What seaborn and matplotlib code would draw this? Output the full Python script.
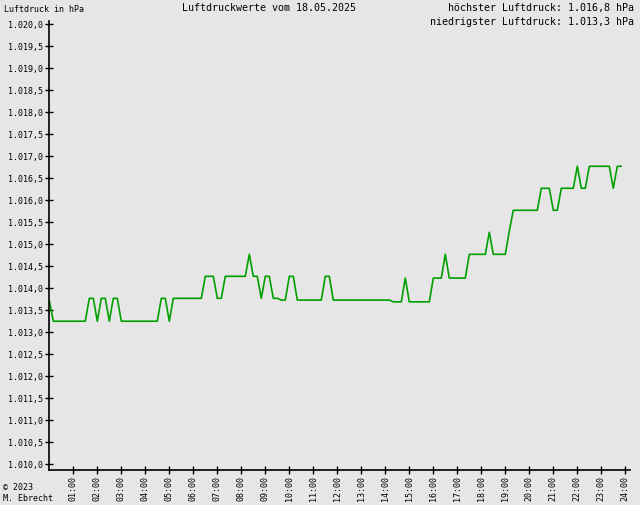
import numpy as np
import pandas as pd
import matplotlib
matplotlib.use("Agg")
import matplotlib.pyplot as plt
import seaborn as sns
from matplotlib.ticker import FuncFormatter

# ── Data: vertices of the pressure curve (10-minute readings) ──
times = ["00:00", "00:10", "01:30", "01:40", "01:50", "02:00", "02:10", "02:20",
         "02:30", "02:40", "02:50", "03:00", "04:30", "04:40", "04:50", "05:00",
         "05:10", "06:20", "06:30", "06:50", "07:00", "07:10", "07:20", "08:10",
         "08:20", "08:30", "08:40", "08:50", "09:00", "09:10", "09:20", "09:30",
         "09:40", "09:50", "10:00", "10:10", "10:20", "11:20", "11:30", "11:40",
         "11:50", "14:10", "14:20", "14:40", "14:50", "15:00", "15:50", "16:00",
         "16:20", "16:30", "16:40", "17:20", "17:30", "18:10", "18:20", "18:30",
         "19:00", "19:10", "19:20", "20:20", "20:30", "20:50", "21:00", "21:10",
         "21:20", "21:50", "22:00", "22:10", "22:20", "22:30", "23:20", "23:30",
         "23:40", "23:50"]
pressure = [1013.72, 1013.25, 1013.25, 1013.77, 1013.77, 1013.25, 1013.77, 1013.77,
            1013.25, 1013.77, 1013.77, 1013.25, 1013.25, 1013.77, 1013.77, 1013.25,
            1013.77, 1013.77, 1014.27, 1014.27, 1013.77, 1013.77, 1014.27, 1014.27,
            1014.77, 1014.27, 1014.27, 1013.77, 1014.27, 1014.27, 1013.77, 1013.77,
            1013.73, 1013.73, 1014.27, 1014.27, 1013.73, 1013.73, 1014.27, 1014.27,
            1013.73, 1013.73, 1013.69, 1013.69, 1014.23, 1013.69, 1013.69, 1014.23,
            1014.23, 1014.77, 1014.23, 1014.23, 1014.77, 1014.77, 1015.27, 1014.77,
            1014.77, 1015.30, 1015.77, 1015.77, 1016.27, 1016.27, 1015.77, 1015.77,
            1016.27, 1016.27, 1016.77, 1016.27, 1016.27, 1016.77, 1016.77, 1016.27,
            1016.77, 1016.77]

title = "Luftdruckwerte vom 18.05.2025"
max_text = "höchster Luftdruck: 1.016,8 hPa"
min_text = "niedrigster Luftdruck: 1.013,3 hPa"
hour_labels = [f"{h:02d}:00" for h in range(1, 25)]

df = pd.DataFrame({
    "hour": [int(t[:2]) + int(t[3:]) / 60 for t in times],
    "hPa": pressure,
})

# ── Style ───────────────────────────────────────────────────
bg = "#e6e6e6"
sns.set_style("white", {"axes.facecolor": bg, "figure.facecolor": bg,
                        "text.color": "black", "xtick.color": "black",
                        "ytick.color": "black", "axes.labelcolor": "black"})
plt.rcParams["font.family"] = ["DejaVu Sans Mono", "DejaVu Sans"]

W, H = 640, 505
fig = plt.figure(figsize=(W / 100, H / 100), dpi=100)
ax = fig.add_axes([49.3 / W, 35 / H, (630.1 - 49.3) / W, (470 - 21) / H])

sns.lineplot(data=df, x="hour", y="hPa", ax=ax, color="#00a000",
             linewidth=1.2, estimator=None, sort=False)

ax.set_xlim(0, 24.2)
ax.set_ylim(1009.87, 1020.07)
ax.set_xticks(range(1, 25))
ax.set_xticklabels(hour_labels, rotation=90, fontsize=6)
ax.set_yticks(np.arange(1010, 1020.01, 0.5))
ax.yaxis.set_major_formatter(FuncFormatter(
    lambda v, p: f"{v:,.1f}".replace(",", "X").replace(".", ",").replace("X", ".")))
ax.tick_params(axis="both", which="major", direction="inout", length=6, width=1,
               color="black", labelcolor="black", labelsize=6, pad=1.5,
               bottom=True, left=True)
ax.set_xlabel("")
ax.set_ylabel("")
ax.grid(False)
for s in ["top", "right"]:
    ax.spines[s].set_visible(False)
for s in ["left", "bottom"]:
    ax.spines[s].set_color("black")
    ax.spines[s].set_linewidth(1.2)

# ── Header / footer texts ──────────────────────────────────
def px(x, y):
    return x / W, 1 - y / H

fig.text(*px(4, 9), "Luftdruck in hPa", fontsize=6, va="center", ha="left")
fig.text(*px(269, 8), title, fontsize=7.2, va="center", ha="center")
fig.text(*px(634, 8), max_text, fontsize=7.2, va="center", ha="right")
fig.text(*px(634, 22), min_text, fontsize=7.2, va="center", ha="right")
fig.text(*px(3, 487), "© 2023", fontsize=6, va="center", ha="left")
fig.text(*px(3, 498.5), "M. Ebrecht", fontsize=6, va="center", ha="left")

fig.savefig("out.png", dpi=100, facecolor=bg)
